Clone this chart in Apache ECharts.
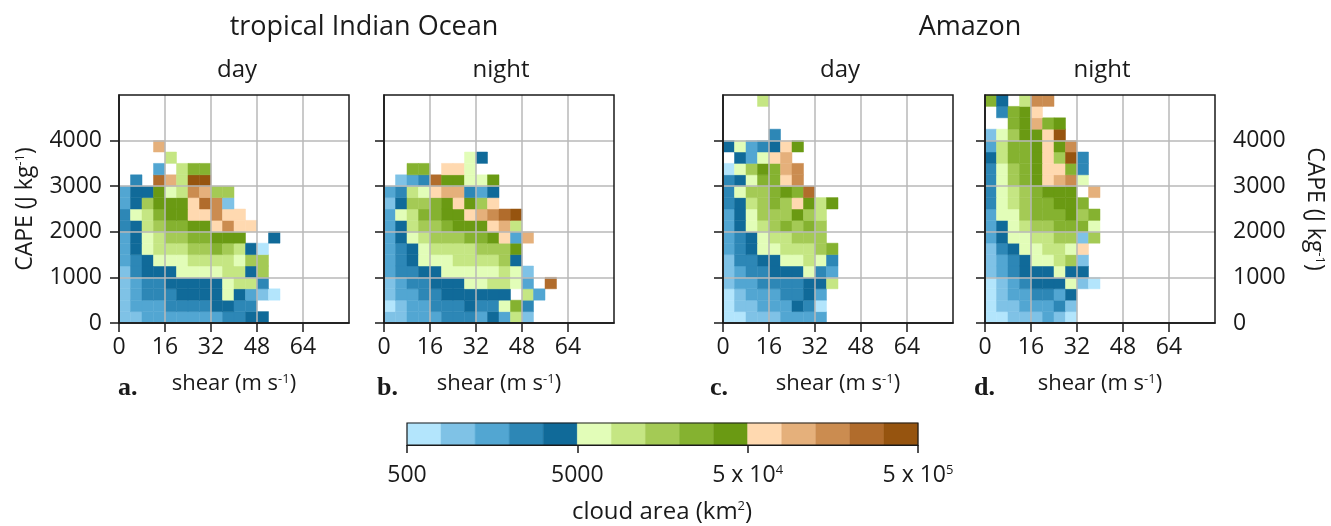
<!DOCTYPE html>
<html>
<head>
<meta charset="utf-8">
<script src="https://cdn.jsdelivr.net/npm/echarts@6/dist/echarts.min.js"></script>
<style>html,body{margin:0;padding:0;background:#fff;}#chart{width:1331px;height:526px;}</style>
</head>
<body>
<div id="chart"></div>
<script>
const _ = null;
// colour classes (cloud area, km2), 15 log-spaced classes from 500 to 5e5
const levelBounds = [500, 792, 1256, 1991, 3155, 5000, 7924, 12559, 19905, 31548, 50000, 79245, 125594, 199054, 315479, 500000];
const levelColors = ['#b3e5fc','#7fc2e6','#52a6d2','#2d87b6','#106a99','#e2fdb8','#c5e683','#a4ca55','#85b230','#6a9a13','#ffd9b0','#e5b07b','#cb8c50','#b16c2c','#96540f'];
const shearTicks = [0, 16, 32, 48, 64];
const capeTicks = [0, 1000, 2000, 3000, 4000];
const cbTicks = [500, 5000, 50000, 500000];
const cbLabels = ['500', '5000', '5 x 10{sup|4}', '5 x 10{sup|5}'];
const shearBin = 4;    // m/s per bin
const capeBin = 250;   // J/kg per bin

// rows from CAPE bin 0 (0-250) upward; columns shear bins 0-4, 4-8, ...
const ioDay = [
 [1000,1000,1600,1600,1600,1600,1600,1600,1600,2500,2500,4000,4000],
 [1000,1600,1600,1600,2500,2500,2500,2500,4000,4000,2500,2500],
 [1000,1600,2500,2500,2500,4000,4000,4000,4000,6300,4000,1600,1000,630],
 [1000,1600,2500,2500,4000,4000,4000,4000,4000,6300,10000,10000,2500],
 [1000,2500,4000,4000,4000,6300,6300,6300,6300,10000,10000,4000,16000],
 [1600,2500,4000,6300,6300,6300,10000,10000,10000,10000,6300,16000,16000],
 [1600,4000,6300,10000,10000,10000,16000,16000,25000,16000,10000,4000,630],
 [1600,4000,6300,10000,16000,16000,25000,25000,40000,40000,40000,_,_,4000],
 [2500,4000,10000,16000,25000,25000,40000,40000,63000,160000,63000,63000],
 [2500,6300,10000,25000,40000,40000,63000,63000,160000,63000,63000],
 [1600,4000,16000,40000,40000,40000,63000,250000,160000,1000],
 [1600,4000,4000,40000,6300,10000,160000,100000,16000,16000],
 [_,2500,_,250000,100000,10000,400000,400000],
 [_,_,_,1600,_,10000,25000,25000],
 [_,_,_,_,10000],
 [_,_,_,100000]
];
const ioNight = [
 [1000,1000,1600,1600,1600,2500,2500,2500,1600,4000,1600,10000,1000],
 [630,1000,1600,1600,2500,2500,2500,4000,2500,2500,6300,25000,2500],
 [1000,1600,1600,2500,2500,4000,4000,4000,4000,4000,4000,_,10000,1600],
 [1000,1600,2500,2500,4000,4000,4000,6300,6300,10000,10000,6300,1600,_,250000],
 [1600,2500,2500,4000,4000,6300,6300,6300,6300,6300,10000,6300,1000],
 [1600,2500,4000,6300,6300,6300,10000,10000,10000,10000,16000,4000],
 [1600,2500,4000,6300,10000,10000,10000,10000,16000,16000,16000,40000],
 [1600,4000,6300,10000,16000,16000,16000,25000,25000,40000,63000,1600,100000],
 [1600,4000,10000,16000,16000,25000,40000,40000,40000,63000,100000,10000],
 [1600,6300,10000,25000,25000,40000,40000,63000,100000,160000,250000,400000],
 [1000,4000,16000,16000,25000,40000,63000,40000,16000,63000],
 [1600,2500,10000,6300,63000,100000,100000,2500,1600,4000],
 [_,1000,1600,2500,250000,40000,40000,6300,6300,40000],
 [_,_,25000,25000,_,63000,63000,6300],
 [_,_,_,_,_,_,_,6300,4000]
];
const amDay = [
 [630,630,1000,1000,1000,1600,1600,1600,1600],
 [630,1000,1000,1600,1600,1600,4000,2500,630],
 [630,1000,1600,1600,1600,2500,2500,4000,1600],
 [1000,1600,1600,2500,2500,2500,2500,4000,4000,10000],
 [1000,1600,2500,2500,4000,4000,4000,6300,2500,1600],
 [1000,2500,2500,4000,4000,6300,6300,10000,6300,2500],
 [1600,2500,4000,6300,6300,10000,10000,10000,16000,25000],
 [1600,2500,4000,6300,10000,10000,16000,16000,16000],
 [1600,4000,6300,10000,16000,25000,16000,25000,16000],
 [1600,4000,6300,16000,16000,16000,40000,16000,10000],
 [2500,4000,10000,16000,25000,16000,63000,40000,10000,40000],
 [2500,6300,16000,16000,25000,40000,25000,250000],
 [2500,4000,6300,25000,25000,63000,160000],
 [630,6300,16000,40000,25000,100000,160000],
 [_,4000,1600,6300,63000,100000],
 [4000,6300,1600,2500,4000,63000,40000],
 [_,_,_,_,2500],
 [],
 [],
 [_,_,_,10000]
];
const amNight = [
 [630,630,1000,1000,1000,1600,1000,630],
 [630,1000,1000,1600,1600,1600,2500,1000],
 [630,1000,1600,1600,2500,2500,1600,4000],
 [630,1000,1600,2500,4000,4000,4000,6300,1000,630],
 [1000,1600,2500,4000,4000,4000,6300,4000,4000],
 [1000,1600,2500,4000,6300,6300,10000,16000,1000],
 [1000,2500,4000,6300,6300,10000,10000,6300,63000],
 [1600,4000,6300,6300,10000,10000,16000,16000,1000,16000],
 [1600,4000,6300,10000,16000,16000,25000,25000,25000,6300],
 [1600,6300,6300,16000,25000,25000,25000,40000,16000,25000],
 [2500,6300,10000,16000,25000,25000,40000,40000,25000],
 [2500,6300,10000,16000,25000,40000,40000,40000,_,100000],
 [2500,6300,16000,25000,40000,63000,100000,160000,6300],
 [2500,6300,16000,25000,40000,63000,63000,25000,2500],
 [4000,10000,25000,25000,40000,63000,16000,400000,2500],
 [1600,10000,25000,25000,40000,63000,40000,160000],
 [1000,6300,16000,40000,40000,63000,400000],
 [_,_,25000,40000,100000,25000,40000],
 [_,2500,25000,40000,63000],
 [25000,4000,_,10000,160000,160000]
];
const panels = [ioDay, ioNight, amDay, amNight];

function toCells(rows) {
  const out = [];
  rows.forEach((row, j) => row.forEach((v, i) => { if (v != null) out.push([i * shearBin, j * capeBin, v]); }));
  return out;
}
function renderCell(params, api) {
  const x0 = api.value(0), y0 = api.value(1);
  const p0 = api.coord([x0, y0 + capeBin]);
  const p1 = api.coord([x0 + shearBin, y0]);
  const c = api.visual('color');
  return { type: 'rect', shape: { x: p0[0], y: p0[1], width: p1[0] - p0[0], height: p1[1] - p0[1] },
           style: { fill: c, stroke: c, lineWidth: 0.5 } };
}

const FONT = 'Open Sans';
const INK = '#1a1a1a';
const gridPos = [119, 384, 723, 985];
const grids = gridPos.map(l => ({ left: l, top: 95, width: 230, height: 228, show: true, borderColor: INK, borderWidth: 1.5, z: 10, backgroundColor: 'transparent' }));
grids.push({ left: 407, top: 423, width: 511, height: 22, show: true, borderColor: INK, borderWidth: 1.2, z: 10, backgroundColor: 'transparent' });

const supRich = { sup: { fontSize: 13, verticalAlign: 'top', fontFamily: FONT, color: INK, padding: [0, 0, 8, 0] } };
const plain = v => String(v);

const xAxes = gridPos.map((l, k) => ({
  type: 'value', gridIndex: k, min: 0, max: 80, interval: 16, z: 5,
  axisLine: { show: true, lineStyle: { color: INK, width: 1.5 } },
  axisTick: { show: true, length: 9, lineStyle: { color: INK, width: 1.5 }, customValues: shearTicks },
  axisLabel: { customValues: shearTicks, formatter: plain, fontFamily: FONT, fontSize: 23, color: INK, margin: 13 },
  splitLine: { show: true, lineStyle: { color: '#b8b8b8', width: 1.5 } },
  name: 'shear (m s{sup|-1})', nameLocation: 'middle', nameGap: 50,
  nameTextStyle: { fontFamily: FONT, fontSize: 22, color: INK, rich: supRich }
}));
xAxes.push({
  type: 'log', logBase: 10, gridIndex: 4, min: 500, max: 500000, z: 5,
  axisLine: { show: true, lineStyle: { color: INK, width: 1.2 } },
  axisTick: { show: true, length: 8, lineStyle: { color: INK, width: 1.5 }, customValues: cbTicks },
  axisLabel: { customValues: cbTicks, fontFamily: FONT, fontSize: 23, color: INK, margin: 19,
    formatter: v => { const k = cbTicks.findIndex(t => Math.abs(t - v) / t < 1e-6); return k >= 0 ? cbLabels[k] : ''; },
    rich: supRich },
  splitLine: { show: false }
});

const yAxes = gridPos.map((l, k) => ({
  type: 'value', gridIndex: k, min: 0, max: 5000, interval: 1000, z: 5, position: 'left',
  axisLine: { show: true, lineStyle: { color: INK, width: 1.5 } },
  axisTick: { show: true, length: 9, lineStyle: { color: INK, width: 1.5 }, customValues: capeTicks },
  axisLabel: { show: k === 0, customValues: capeTicks, formatter: plain, fontFamily: FONT, fontSize: 23, color: INK, margin: 17 },
  splitLine: { show: true, lineStyle: { color: '#b8b8b8', width: 1.5 } },
  name: k === 0 ? 'CAPE (J kg{sup|-1})' : '', nameLocation: 'middle', nameGap: 82, nameRotate: 90,
  nameTextStyle: { fontFamily: FONT, fontSize: 23, color: INK, rich: supRich }
}));
yAxes.push({
  type: 'value', gridIndex: 3, min: 0, max: 5000, interval: 1000, position: 'right', z: 5,
  axisLine: { show: false }, axisTick: { show: false },
  axisLabel: { customValues: capeTicks, formatter: plain, fontFamily: FONT, fontSize: 23, color: INK, margin: 18 },
  splitLine: { show: false },
  name: 'CAPE (J kg{sup|-1})', nameLocation: 'middle', nameGap: 88, nameRotate: -90,
  nameTextStyle: { fontFamily: FONT, fontSize: 23, color: INK, rich: supRich }
});
yAxes.push({ type: 'value', gridIndex: 4, min: 0, max: 1, show: false });

const series = panels.map((rows, k) => ({
  type: 'custom', xAxisIndex: k, yAxisIndex: k, renderItem: renderCell,
  data: toCells(rows), encode: { x: 0, y: 1 }, z: 2
}));
series.push({
  type: 'custom', xAxisIndex: 4, yAxisIndex: 5, z: 2,
  data: levelColors.map((c, k) => [levelBounds[k], levelBounds[k + 1], k]),
  renderItem: (params, api) => {
    const p0 = api.coord([api.value(0), 1]);
    const p1 = api.coord([api.value(1), 0]);
    const c = levelColors[api.value(2)];
    return { type: 'rect', shape: { x: p0[0], y: p0[1], width: p1[0] - p0[0], height: p1[1] - p0[1] }, style: { fill: c, stroke: c, lineWidth: 0.5 } };
  }
});

function txt(t, x, y, size) {
  return { type: 'text', x: x, y: y, z: 20,
    style: { text: t, fontFamily: FONT, fontSize: size, fill: INK, align: 'center', verticalAlign: 'middle', rich: supRich } };
}
const serifLabel = (t, x) => ({ type: 'text', x: x, y: 388, z: 20,
  style: { text: t, fontFamily: 'Liberation Serif', fontWeight: 'bold', fontSize: 26, fill: INK, align: 'left', verticalAlign: 'middle' } });

const chart = echarts.init(document.getElementById('chart'));
chart.setOption({
  animation: false,
  backgroundColor: '#ffffff',
  grid: grids,
  xAxis: xAxes,
  yAxis: yAxes,
  visualMap: {
    type: 'piecewise', show: false, dimension: 2, seriesIndex: [0, 1, 2, 3],
    pieces: levelColors.map((c, k) => ({ gte: levelBounds[k], lt: levelBounds[k + 1], color: c }))
  },
  series: series,
  graphic: [
    txt('tropical Indian Ocean', 364, 27, 27),
    txt('Amazon', 970, 27, 27),
    txt('day', 237, 70, 24),
    txt('night', 501, 70, 24),
    txt('day', 840, 70, 24),
    txt('night', 1102, 70, 24),
    txt('cloud area (km{sup|2})', 662, 512, 24),
    serifLabel('a.', 118),
    serifLabel('b.', 377),
    serifLabel('c.', 710),
    serifLabel('d.', 974)
  ]
});
</script>
</body>
</html>
